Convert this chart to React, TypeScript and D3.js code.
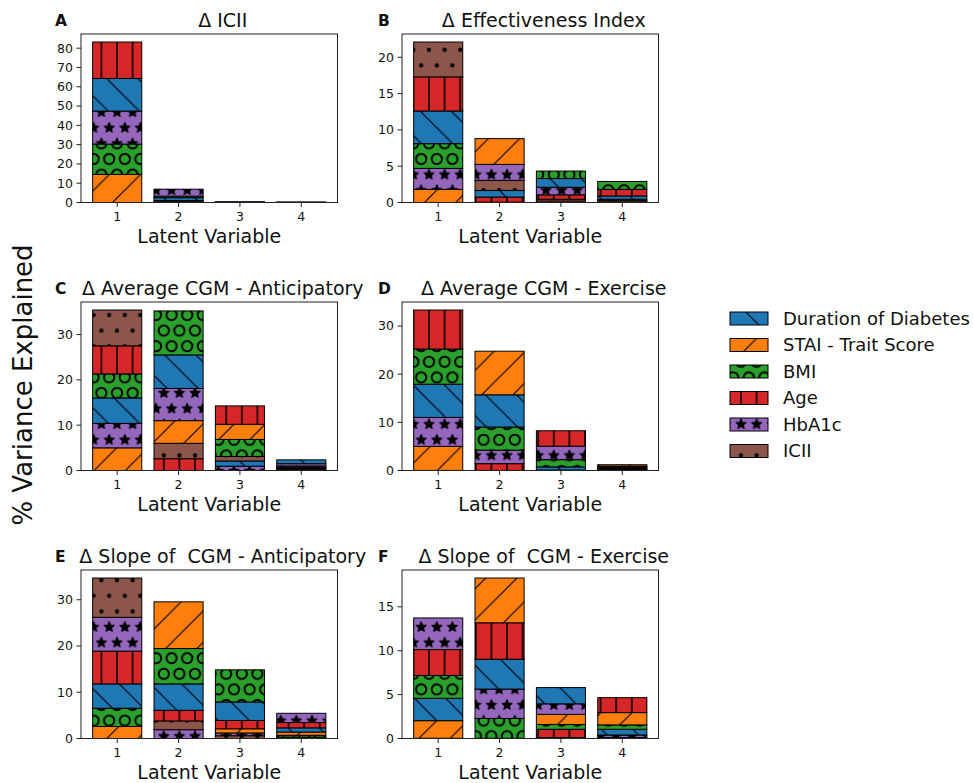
import React from "react";
import * as d3 from "d3";

const W = 973;
const H = 783;

const SERIES = ["Duration of Diabetes", "STAI - Trait Score", "BMI", "Age", "HbA1c", "ICII"];
const COLORS = ["#1f77b4", "#ff7f0e", "#2ca02c", "#d62728", "#9467bd", "#8c564b"];
const HATCH_IDS = ["h-dur", "h-stai", "h-bmi", "h-age", "h-hba1c", "h-icii"];
const LATENT = [1, 2, 3, 4];

// values[series][latent variable 1..4], order = stacking order (series index, bottom -> top)
const iciiValues = [
  [16.9, 1.5, 0.05, 0.03],
  [14.6, 0.6, 0.05, 0.03],
  [15.7, 0.8, 0.05, 0.03],
  [18.9, 0.4, 0.05, 0.03],
  [17.1, 3.6, 0.05, 0.03],
  [0, 0, 0, 0],
];
const iciiOrder = [[1, 2, 4, 0, 3], [3, 1, 0, 2, 4], [0, 1, 2, 3, 4], [0, 1, 2, 3, 4]];
const iciiTicks = [0, 10, 20, 30, 40, 50, 60, 70, 80];

const effValues = [
  [4.5, 0.9, 1.2, 0.45],
  [1.8, 3.55, 0.2, 0.2],
  [3.4, 0.05, 1.03, 1.1],
  [4.7, 0.7, 0.6, 0.9],
  [2.9, 2.2, 1.05, 0.15],
  [4.8, 1.4, 0.25, 0.1],
];
const effOrder = [[1, 4, 2, 0, 3, 5], [2, 3, 0, 5, 4, 1], [1, 5, 3, 4, 0, 2], [5, 1, 4, 0, 3, 2]];
const effTicks = [0, 5, 10, 15, 20];

const avgAntValues = [
  [5.6, 7.4, 1.15, 0.85],
  [5.0, 5.0, 3.35, 0.25],
  [5.3, 9.7, 3.75, 0.2],
  [6.2, 2.6, 4.05, 0.25],
  [5.4, 7.1, 0.95, 0.5],
  [7.9, 3.4, 1.0, 0.3],
];
const avgAntOrder = [[1, 4, 0, 2, 3, 5], [3, 5, 1, 4, 0, 2], [4, 0, 5, 2, 1, 3], [2, 1, 3, 5, 4, 0]];
const avgAntTicks = [0, 10, 20, 30];

const avgExValues = [
  [6.9, 6.7, 0.65, 0.15],
  [5.0, 9.05, 0.05, 0.3],
  [7.3, 4.8, 1.5, 0.2],
  [8.1, 1.4, 3.2, 0.2],
  [6.0, 2.8, 2.8, 0.2],
  [0.02, 0.02, 0.05, 0.15],
];
const avgExOrder = [[5, 1, 4, 0, 2, 3], [5, 3, 4, 2, 0, 1], [5, 1, 0, 2, 4, 3], [0, 5, 2, 3, 4, 1]];
const avgExTicks = [0, 10, 20, 30];

const slopeAntValues = [
  [5.25, 5.7, 4.0, 0.9],
  [2.6, 10.1, 0.9, 0.7],
  [3.95, 7.65, 6.95, 0.4],
  [7.1, 2.3, 1.8, 1.15],
  [7.3, 1.9, 0.6, 2.0],
  [8.5, 1.9, 0.6, 0.3],
];
const slopeAntOrder = [[1, 2, 0, 3, 4, 5], [4, 5, 3, 0, 2, 1], [5, 4, 1, 3, 0, 2], [5, 2, 1, 0, 3, 4]];
const slopeAntTicks = [0, 10, 20, 30];

const slopeExValues = [
  [2.55, 3.4, 1.85, 0.65],
  [2.0, 5.1, 1.15, 1.4],
  [2.6, 2.25, 0.55, 0.5],
  [2.95, 4.15, 0.95, 1.7],
  [3.6, 3.35, 1.2, 0.3],
  [0.03, 0.03, 0.1, 0.1],
];
const slopeExOrder = [[5, 1, 0, 2, 3, 4], [5, 2, 4, 0, 3, 1], [5, 3, 2, 1, 4, 0], [5, 4, 0, 2, 1, 3]];
const slopeExTicks = [0, 5, 10, 15];

const PANELS = [
  { letter: "A", title: "Δ ICII", values: iciiValues, order: iciiOrder, ticks: iciiTicks },
  { letter: "B", title: "Δ Effectiveness Index", values: effValues, order: effOrder, ticks: effTicks },
  { letter: "C", title: "Δ Average CGM - Anticipatory", values: avgAntValues, order: avgAntOrder, ticks: avgAntTicks },
  { letter: "D", title: "Δ Average CGM - Exercise", values: avgExValues, order: avgExOrder, ticks: avgExTicks },
  { letter: "E", title: "Δ Slope of  CGM - Anticipatory", values: slopeAntValues, order: slopeAntOrder, ticks: slopeAntTicks },
  { letter: "F", title: "Δ Slope of  CGM - Exercise", values: slopeExValues, order: slopeExOrder, ticks: slopeExTicks },
];

// layout
const COL_X = [81, 402];
const ROW_Y = [34, 302, 570];
const AX_W = 256.5;
const AX_H = 168.5;
const FONT = "DejaVu Sans, Verdana, sans-serif";
const P = 15.6; // hatch spacing
const HW = 1.2; // hatch line width

function starPath(cx: number, cy: number, R: number, r: number) {
  const pts: string[] = [];
  for (let i = 0; i < 10; i++) {
    const a = -Math.PI / 2 + (i * Math.PI) / 5;
    const rad = i % 2 === 0 ? R : r;
    pts.push(`${cx + rad * Math.cos(a)},${cy + rad * Math.sin(a)}`);
  }
  return "M" + pts.join("L") + "Z";
}

const SHAPE_POS = [[0, 0], [P, 0], [0, 2 * P], [P, 2 * P], [P / 2, P]];

function Patterns() {
  const T = 2 * P;
  return (
    <defs>
      <pattern id="h-dur" patternUnits="userSpaceOnUse" width={T} height={T} y={H}>
        <path
          d={`M0,0L${T},${T}M${-T / 2},${T / 2}L${T / 2},${1.5 * T}M${T / 2},${-T / 2}L${1.5 * T},${T / 2}`}
          stroke="black" strokeWidth={HW} fill="none" />
      </pattern>
      <pattern id="h-stai" patternUnits="userSpaceOnUse" width={T} height={T} y={H}>
        <path
          d={`M0,${T}L${T},0M${-T / 2},${T / 2}L${T / 2},${-T / 2}M${T / 2},${1.5 * T}L${1.5 * T},${T / 2}`}
          stroke="black" strokeWidth={HW} fill="none" />
      </pattern>
      <pattern id="h-age" patternUnits="userSpaceOnUse" width={P} height={P}>
        <path d={`M${P / 2},-1L${P / 2},${P + 1}`} stroke="black" strokeWidth={HW * 1.3} fill="none" />
      </pattern>
      <pattern id="h-bmi" patternUnits="userSpaceOnUse" width={P} height={2 * P} y={H}>
        {SHAPE_POS.map(([x, y], i) => (
          <circle key={i} cx={x} cy={y} r={0.33 * P} fill="none" stroke="black" strokeWidth={1.9} />
        ))}
      </pattern>
      <pattern id="h-hba1c" patternUnits="userSpaceOnUse" width={P} height={2 * P} y={H}>
        {SHAPE_POS.map(([x, y], i) => (
          <path key={i} d={starPath(x, y, P / 3, P / 6.5)} fill="black" stroke="black" strokeWidth={HW} strokeLinejoin="round" />
        ))}
      </pattern>
      <pattern id="h-icii" patternUnits="userSpaceOnUse" width={P} height={2 * P} y={H}>
        {SHAPE_POS.map(([x, y], i) => (
          <circle key={i} cx={x} cy={y} r={0.1 * P} fill="black" stroke="black" strokeWidth={HW} />
        ))}
      </pattern>
    </defs>
  );
}

function Segment({ x, y, w, h, s }: { x: number; y: number; w: number; h: number; s: number }) {
  return (
    <g>
      <rect x={x} y={y} width={w} height={h} fill={COLORS[s]} />
      <rect x={x} y={y} width={w} height={h} fill={`url(#${HATCH_IDS[s]})`} />
      <rect x={x} y={y} width={w} height={h} fill="none" stroke="black" strokeWidth={1} />
    </g>
  );
}

function Panel({ panel, idx }: { panel: (typeof PANELS)[number]; idx: number }) {
  const x0 = COL_X[idx % 2];
  const y0 = ROW_Y[Math.floor(idx / 2)];
  const totals = LATENT.map((_, j) => d3.sum(panel.values, (v) => v[j]));
  const x = d3.scaleLinear().domain([0.41, 4.59]).range([x0, x0 + AX_W]);
  const y = d3
    .scaleLinear()
    .domain([0, (d3.max(totals) as number) * 1.05])
    .range([y0 + AX_H, y0]);
  const bw = x(0.8) - x(0);
  const segs: { key: string; x: number; y: number; w: number; h: number; s: number }[] = [];
  LATENT.forEach((lv, j) => {
    let cum = 0;
    panel.order[j].forEach((s) => {
      const v = panel.values[s][j];
      if (v <= 0) return;
      segs.push({ key: `${j}-${s}`, x: x(lv) - bw / 2, y: y(cum + v), w: bw, h: y(cum) - y(cum + v), s });
      cum += v;
    });
  });
  const cx = x0 + AX_W / 2;
  const bottom = y0 + AX_H;
  return (
    <g>
      {segs.map((d) => (
        <Segment key={d.key} x={d.x} y={d.y} w={d.w} h={d.h} s={d.s} />
      ))}
      <rect x={x0} y={y0} width={AX_W} height={AX_H} fill="none" stroke="#222" strokeWidth={1} />
      {panel.ticks.map((t) => (
        <g key={t}>
          <line x1={x0 - 4.5} x2={x0} y1={y(t)} y2={y(t)} stroke="#222" strokeWidth={1} />
          <text x={x0 - 8} y={y(t)} dy="0.35em" textAnchor="end" fontSize={12.5} fill="#111">
            {t}
          </text>
        </g>
      ))}
      {LATENT.map((lv) => (
        <g key={lv}>
          <line x1={x(lv)} x2={x(lv)} y1={bottom} y2={bottom + 4.5} stroke="#222" strokeWidth={1} />
          <text x={x(lv)} y={bottom + 18} textAnchor="middle" fontSize={12.5} fill="#111">
            {lv}
          </text>
        </g>
      ))}
      <text x={cx} y={bottom + 40} textAnchor="middle" fontSize={19} fill="#111">
        Latent Variable
      </text>
      <text x={cx + 13.5} y={y0 - 7.5} textAnchor="middle" fontSize={19} fill="#111" style={{ whiteSpace: "pre" }}>
        {panel.title}
      </text>
      <text x={idx % 2 === 0 ? 55 : 378} y={y0 - 8} fontSize={15.5} fontWeight="bold" fill="#111">
        {panel.letter}
      </text>
    </g>
  );
}

export default function App() {
  return (
    <svg
      width={W}
      height={H}
      style={{ position: "absolute", left: 0, top: 0, background: "white" }}
      fontFamily={FONT}
    >
      <Patterns />
      <rect width={W} height={H} fill="white" />
      {PANELS.map((p, i) => (
        <Panel key={p.letter} panel={p} idx={i} />
      ))}
      <text transform="translate(32,385) rotate(-90)" textAnchor="middle" fontSize={26} fill="#111">
        % Variance Explained
      </text>
      {SERIES.map((name, i) => {
        const cy = 318.5 + i * 26.5;
        return (
          <g key={name}>
            <Segment x={730} y={cy - 6.5} w={38} h={13} s={i} />
            <text x={783} y={cy} dy="0.35em" fontSize={18} fill="#111">
              {name}
            </text>
          </g>
        );
      })}
    </svg>
  );
}
